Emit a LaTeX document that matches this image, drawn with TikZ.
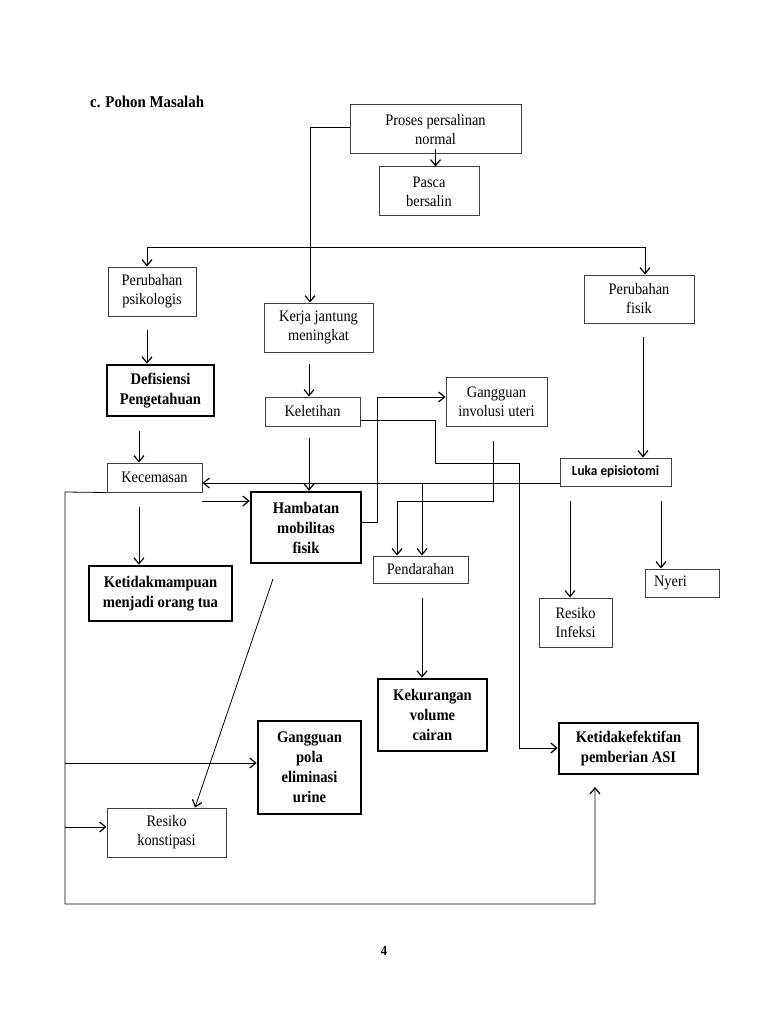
\documentclass[tikz,border=0pt]{standalone}
\usepackage{fontspec}
\setmainfont{Liberation Serif}[FakeStretch=0.9]
\newfontfamily\calib{Carlito}[FakeStretch=0.95]
\usetikzlibrary{arrows.meta}
\begin{document}
\begin{tikzpicture}[x=1pt,y=-1pt,
  thinbox/.style={draw=black!75, line width=1pt, inner sep=0pt, align=center, font=\fontsize{16}{19}\selectfont},
  thickbox/.style={draw=black, line width=2.6pt, inner sep=0pt, align=center, font=\bfseries\fontsize{16.2}{20}\selectfont},
  conn/.style={draw=black, line width=0.8pt},
  arr/.style={conn, -{Straight Barb[length=6pt,width=10pt,line width=1.2pt]}},
  barr/.style={conn, {Straight Barb[length=6pt,width=10pt,line width=1.2pt]}-{Straight Barb[length=6pt,width=10pt,line width=1.2pt]}}
  ]
\useasboundingbox[fill=white] (0,0) rectangle (768,1024);

% title and page number
\node[font=\bfseries\fontsize{16.5}{18}\selectfont, anchor=west, inner sep=0pt] (title) at (90,102) {c. Pohon Masalah};
\node[font=\bfseries\fontsize{14}{16}\selectfont, inner sep=0pt] (pg) at (384,951) {4};

% boxes
\node[thinbox, minimum width=171pt, minimum height=49pt] (proses) at (435.5,129.5) {Proses persalinan\\normal};
\node[thinbox, minimum width=100pt, minimum height=49pt] (pasca) at (429,191.5) {Pasca\\bersalin};
\node[thinbox, minimum width=88pt, minimum height=49pt] (psik) at (152,291.5) {Perubahan\\psikologis};
\node[thinbox, minimum width=109pt, minimum height=49pt] (kerja) at (318.5,327.5) {Kerja jantung\\meningkat};
\node[thinbox, minimum width=110pt, minimum height=48pt] (fisik) at (639,299) {Perubahan\\fisik};
\node[thickbox, minimum width=107pt, minimum height=51pt] (defis) at (160.5,390.5) {Defisiensi\\Pengetahuan};
\node[thinbox, minimum width=95pt, minimum height=29pt] (kel) at (312.5,411.5) {Keletihan};
\node[thinbox, minimum width=101pt, minimum height=49pt] (ginv) at (496.5,401.5) {Gangguan\\involusi uteri};
\node[thinbox, minimum width=111pt, minimum height=28pt, font=\calib\bfseries\fontsize{14}{16}\selectfont] (luka) at (615.5,472) {Luka episiotomi};
\node[thinbox, minimum width=95pt, minimum height=29pt] (kec) at (154.5,477.5) {Kecemasan};
\node[thickbox, minimum width=110pt, minimum height=71pt] (hamb) at (306,527.5) {Hambatan\\mobilitas\\fisik};
\node[thinbox, minimum width=95pt, minimum height=27pt] (pend) at (420.5,569.5) {Pendarahan};
\node[thickbox, minimum width=143pt, minimum height=55pt] (ktm) at (160.5,593.5) {Ketidakmampuan\\menjadi orang tua};
\node[thinbox, minimum width=73pt, minimum height=49pt] (infek) at (575.5,622.5) {Resiko\\Infeksi};
\node[thinbox, minimum width=74pt, minimum height=28pt, text width=56pt, align=left] (nyeri) at (682,583) {Nyeri};
\node[thickbox, minimum width=109pt, minimum height=72pt] (kek) at (432.5,715) {Kekurangan\\volume\\cairan};
\node[thickbox, minimum width=103pt, minimum height=93pt] (gpola) at (309.5,767.5) {Gangguan\\pola\\eliminasi\\urine};
\node[thickbox, minimum width=139pt, minimum height=51pt] (ketef) at (628.5,748.5) {Ketidakefektifan\\pemberian ASI};
\node[thinbox, minimum width=119pt, minimum height=49pt] (konst) at (166.5,832.5) {Resiko\\konstipasi};

% helper coordinates
\coordinate (y397) at (0,397);
\coordinate (y420) at (0,420);
\coordinate (y483) at (0,483);
\coordinate (y522) at (0,522);
\coordinate (y748) at (0,748);
\coordinate (barL) at (147,247);
\coordinate (barR) at (645,247);
\coordinate (a1) at (147,330);
\coordinate (a2) at (309,364);
\coordinate (a3) at (139,431);
\coordinate (a4) at (309,438);
\coordinate (a5) at (643,337);
\coordinate (a7) at (202,501);
\coordinate (a8) at (493,441);
\coordinate (a9) at (397,501);
\coordinate (a10) at (422,483);
\coordinate (a11) at (570,501);
\coordinate (a12) at (661,501);
\coordinate (a13) at (422,598);
\coordinate (a14) at (139,507);
\coordinate (b1) at (65,763);
\coordinate (b2) at (65,827);
\coordinate (d1) at (273,579);
\coordinate (ketefin) at (595,787);

% connectors
\draw[arr] ([yshift=5pt]proses.south) -- (proses.south |- pasca.north);
\draw[arr] ([yshift=2pt]proses.west) -| ([xshift=-8.5pt]kerja.north);
\draw[barr] (barL |- psik.north) -- (barL) -- (barR) -- (barR |- fisik.north);
\draw[arr] (a1) -- (a1 |- defis.north);
\draw[arr] (a2) -- (a2 |- kel.north);
\draw[arr] (a3) -- (a3 |- kec.north);
\draw[arr] (a4) -- (a4 |- hamb.north);
\draw[arr] (a5) -- (a5 |- luka.north);
\draw[arr] (luka.west |- y483) -- (kec.east |- y483);
\draw[arr] (a7) -- (a7 -| hamb.west);
\draw[arr] (hamb.east |- y522) -- (377,522) -- (377,397) -- (ginv.west |- y397);
\draw[arr] (kel.east |- y420) -- (435,420) -- (435,463) -- (519,463) -- (519,748) -- (ketef.west |- y748);
\draw[arr] (a8) -- (493,501) -- (a9) -- (a9 |- pend.north);
\draw[arr] (a10) -- (a10 |- pend.north);
\draw[arr] (a11) -- (a11 |- infek.north);
\draw[arr] (a12) -- (a12 |- nyeri.north);
\draw[arr] (a13) -- (a13 |- kek.north);
\draw[arr] (a14) -- (a14 |- ktm.north);
\draw[arr] (kec.south west) -- (65,492) -- (65,904) -- (595,904) -- (ketefin);
\draw[arr] (b1) -- (b1 -| gpola.west);
\draw[arr] (b2) -- (b2 -| konst.west);
\draw[arr] (d1) -- ([xshift=28.5pt]konst.north);
\end{tikzpicture}
\end{document}
